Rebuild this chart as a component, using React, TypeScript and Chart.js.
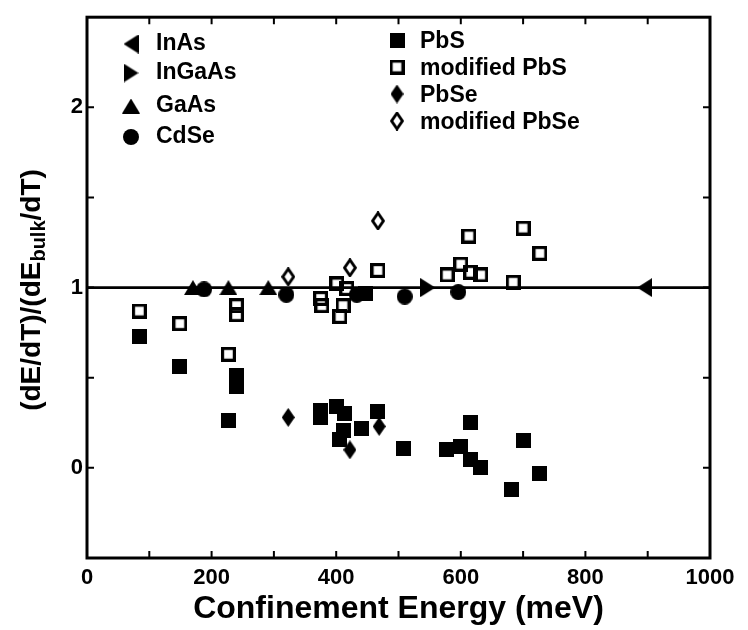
import React, { useEffect, useRef } from "react";
import { Chart, registerables } from "chart.js";
Chart.register(...registerables);

// ---- data (confinement energy in meV, ratio of dE/dT) ----
const inasE = [895];
const inasV = [1.0];
const ingaasE = [547];
const ingaasV = [1.0];
const gaasE = [170, 227, 291];
const gaasV = [1.0, 1.0, 1.0];
const cdseE = [188, 320, 433, 510, 596];
const cdseV = [0.99, 0.96, 0.96, 0.95, 0.975];
const pbsE = [84, 149, 240, 240, 227, 375, 375, 401, 414, 411, 406, 441, 467, 447, 508, 577, 600, 615, 616, 632, 682, 700, 727];
const pbsV = [0.73, 0.56, 0.51, 0.45, 0.26, 0.32, 0.28, 0.34, 0.30, 0.21, 0.16, 0.22, 0.315, 0.965, 0.11, 0.10, 0.12, 0.25, 0.045, 0.0, -0.12, 0.15, -0.03];
const modPbsE = [84, 149, 227, 240, 240, 375, 377, 401, 406, 411, 417, 467, 578, 600, 613, 616, 632, 684, 700, 727];
const modPbsV = [0.87, 0.80, 0.63, 0.90, 0.85, 0.94, 0.90, 1.02, 0.84, 0.90, 0.995, 1.095, 1.07, 1.13, 1.286, 1.085, 1.07, 1.03, 1.33, 1.19];
const pbseE = [323, 469, 422];
const pbseV = [0.28, 0.23, 0.10];
const modPbseE = [323, 422, 467];
const modPbseV = [1.06, 1.11, 1.37];
const refLineE = [0, 1000];
const refLineV = [1, 1];

const xLabelTicks = [0, 200, 400, 600, 800, 1000];
const yLabelTicks = [0, 1, 2];
const xMinorTicks = [100, 200, 300, 400, 500, 600, 700, 800, 900];
const yMinorTicks = [0, 0.5, 1, 1.5, 2];

const legendLeft = ["InAs", "InGaAs", "GaAs", "CdSe"];
const legendRight = ["PbS", "modified PbS", "PbSe", "modified PbSe"];

const FONT = '"Liberation Sans", Arial, Helvetica, sans-serif';

function mk(w: number, h: number, draw: (c: CanvasRenderingContext2D) => void) {
  const c = document.createElement("canvas");
  c.width = w;
  c.height = h;
  const ctx = c.getContext("2d")!;
  ctx.fillStyle = "#000";
  ctx.strokeStyle = "#000";
  draw(ctx);
  return c;
}

function makeMarkers() {
  const filledSquare = mk(15, 15, (c) => c.fillRect(0, 0, 15, 15));
  const openSquare = mk(15, 15, (c) => {
    c.lineWidth = 3.2;
    c.strokeRect(1.6, 1.6, 11.8, 11.8);
  });
  const circle = mk(16, 16, (c) => {
    c.beginPath();
    c.arc(8, 8, 8, 0, Math.PI * 2);
    c.fill();
  });
  const triUp = mk(18, 15, (c) => {
    c.beginPath();
    c.moveTo(9, 0);
    c.lineTo(18, 15);
    c.lineTo(0, 15);
    c.closePath();
    c.fill();
  });
  const triRight = mk(15, 19, (c) => {
    c.beginPath();
    c.moveTo(0, 0);
    c.lineTo(15, 9.5);
    c.lineTo(0, 19);
    c.closePath();
    c.fill();
  });
  const triLeft = mk(15, 19, (c) => {
    c.beginPath();
    c.moveTo(15, 0);
    c.lineTo(0, 9.5);
    c.lineTo(15, 19);
    c.closePath();
    c.fill();
  });
  const diamond = mk(13, 19, (c) => {
    c.beginPath();
    c.moveTo(6.5, 0);
    c.lineTo(13, 9.5);
    c.lineTo(6.5, 19);
    c.lineTo(0, 9.5);
    c.closePath();
    c.fill();
  });
  const openDiamond = mk(14, 19, (c) => {
    c.lineWidth = 2.8;
    c.beginPath();
    c.moveTo(7, 1.6);
    c.lineTo(12.4, 9.5);
    c.lineTo(7, 17.4);
    c.lineTo(1.6, 9.5);
    c.closePath();
    c.stroke();
  });
  return { filledSquare, openSquare, circle, triUp, triRight, triLeft, diamond, openDiamond };
}

const pts = (xs: number[], ys: number[]) => xs.map((x, i) => ({ x, y: ys[i] }));

export default function App() {
  const ref = useRef<HTMLCanvasElement | null>(null);
  useEffect(() => {
    const canvas = ref.current;
    if (!canvas) return;
    const m = makeMarkers();
    const sc = (label: string, xs: number[], ys: number[], style: HTMLCanvasElement) => ({
      type: "scatter" as const,
      label,
      data: pts(xs, ys),
      pointStyle: style,
      pointRadius: 8,
      showLine: false,
      order: 1,
    });
    const datasets: any[] = [
      {
        type: "line",
        label: "ref",
        data: pts(refLineE, refLineV),
        borderColor: "#000",
        borderWidth: 2.6,
        pointRadius: 0,
        order: 10,
      },
      sc("InAs", inasE, inasV, m.triLeft),
      sc("InGaAs", ingaasE, ingaasV, m.triRight),
      sc("GaAs", gaasE, gaasV, m.triUp),
      sc("CdSe", cdseE, cdseV, m.circle),
      sc("PbS", pbsE, pbsV, m.filledSquare),
      sc("modified PbS", modPbsE, modPbsV, m.openSquare),
      sc("PbSe", pbseE, pbseV, m.diamond),
      sc("modified PbSe", modPbseE, modPbseV, m.openDiamond),
    ];

    const framePlugin = {
      id: "frame",
      afterDraw(chart: any) {
        const { ctx, chartArea: a, scales } = chart;
        const xs = scales.x;
        const ys = scales.y;
        ctx.save();
        ctx.strokeStyle = "#000";
        ctx.lineWidth = 3;
        ctx.strokeRect(a.left, a.top, a.right - a.left, a.bottom - a.top);
        ctx.lineWidth = 2;
        const tl = 7;
        ctx.beginPath();
        xMinorTicks.forEach((v) => {
          const px = xs.getPixelForValue(v);
          ctx.moveTo(px, a.bottom);
          ctx.lineTo(px, a.bottom - tl);
          ctx.moveTo(px, a.top);
          ctx.lineTo(px, a.top + tl);
        });
        yMinorTicks.forEach((v) => {
          const py = ys.getPixelForValue(v);
          ctx.moveTo(a.left, py);
          ctx.lineTo(a.left + tl, py);
          ctx.moveTo(a.right, py);
          ctx.lineTo(a.right - tl, py);
        });
        ctx.stroke();

        // legend
        const byLabel: Record<string, any> = {};
        chart.data.datasets.forEach((d: any) => (byLabel[d.label] = d));
        ctx.fillStyle = "#000";
        ctx.font = `bold 23px ${FONT}`;
        ctx.textBaseline = "middle";
        ctx.textAlign = "left";
        const lys = [44, 73, 106, 137];
        const rys = [42, 69, 96, 123];
        legendLeft.forEach((lab, i) => {
          const st = byLabel[lab].pointStyle as HTMLCanvasElement;
          ctx.drawImage(st, 131 - st.width / 2, lys[i] - st.height / 2);
          ctx.fillText(lab, 156, lys[i]);
        });
        legendRight.forEach((lab, i) => {
          const st = byLabel[lab].pointStyle as HTMLCanvasElement;
          ctx.drawImage(st, 397 - st.width / 2, rys[i] - 2 - st.height / 2);
          ctx.fillText(lab, 420, rys[i]);
        });

        // y-axis title with subscript
        ctx.save();
        ctx.translate(32, 290);
        ctx.rotate(-Math.PI / 2);
        const mainF = `bold 28px ${FONT}`;
        const subF = `bold 20px ${FONT}`;
        const parts: [string, string, number][] = [
          ["(dE/dT)/(dE", mainF, 0],
          ["bulk", subF, 7],
          ["/dT)", mainF, 0],
        ];
        let total = 0;
        parts.forEach((p) => {
          ctx.font = p[1];
          total += ctx.measureText(p[0]).width;
        });
        let x = -total / 2;
        parts.forEach((p) => {
          ctx.font = p[1];
          ctx.fillText(p[0], x, p[2]);
          x += ctx.measureText(p[0]).width;
        });
        ctx.restore();
        ctx.restore();
      },
    };

    const chart = new Chart(canvas, {
      type: "scatter",
      data: { datasets },
      options: {
        animation: false,
        responsive: false,
        devicePixelRatio: 1,
        layout: { padding: { left: 0, top: 9, right: 38, bottom: 0 } },
        plugins: { legend: { display: false }, tooltip: { enabled: false } },
        scales: {
          x: {
            type: "linear",
            min: 0,
            max: 1000,
            afterBuildTicks: (s: any) => {
              s.ticks = xLabelTicks.map((v) => ({ value: v }));
            },
            afterFit: (s: any) => {
              s.height = 72;
            },
            grid: { display: false, drawTicks: false },
            border: { display: false },
            ticks: {
              color: "#000",
              font: { family: FONT, size: 22, weight: "bold" },
              padding: 7,
              maxRotation: 0,
              autoSkip: false,
              callback: (v: any) => String(v),
            },
            title: {
              display: true,
              text: "Confinement Energy (meV)",
              color: "#000",
              font: { family: FONT, size: 32, weight: "bold" },
              padding: { top: 0, bottom: 2 },
            },
          },
          y: {
            type: "linear",
            min: -0.5,
            max: 2.5,
            afterBuildTicks: (s: any) => {
              s.ticks = yLabelTicks.map((v) => ({ value: v }));
            },
            afterFit: (s: any) => {
              s.width = 87;
            },
            grid: { display: false, drawTicks: false },
            border: { display: false },
            ticks: {
              color: "#000",
              font: { family: FONT, size: 22, weight: "bold" },
              padding: 4,
              autoSkip: false,
              callback: (v: any) => String(v),
            },
          },
        },
      } as any,
      plugins: [framePlugin],
    });
    return () => chart.destroy();
  }, []);
  return (
    <div style={{ position: "absolute", left: 0, top: 0, width: 748, height: 630, background: "#fff" }}>
      <canvas ref={ref} width={748} height={630} style={{ width: 748, height: 630, display: "block" }} />
    </div>
  );
}
